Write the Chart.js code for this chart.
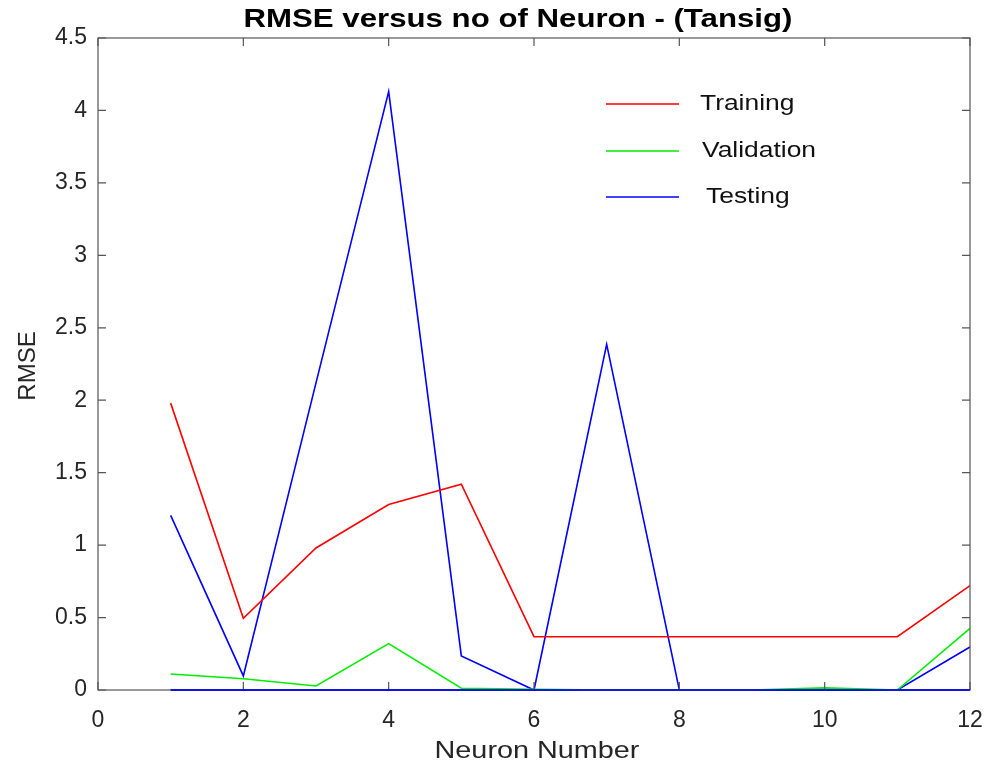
<!DOCTYPE html>
<html>
<head>
<meta charset="utf-8">
<script src="https://cdn.jsdelivr.net/npm/chart.js@4"></script>
<style>
  html, body { margin: 0; padding: 0; background: #fff; }
  #wrap { width: 993px; height: 772px; }
</style>
</head>
<body>
<div id="wrap"><canvas id="c"></canvas></div>
<script>
// neuron counts and RMSE
const neurons = [1, 2, 3, 4, 5, 6, 7, 8, 9, 10, 11, 12];
const training = [1.98, 0.495, 0.98, 1.28, 1.42, 0.368, 0.368, 0.368, 0.368, 0.368, 0.368, 0.72];
const validation = [0.11, 0.078, 0.028, 0.32, 0.012, 0.005, 0, 0, 0, 0.015, 0, 0.426];
const testing = [1.205, 0.097, 2.12, 4.13, 0.235, 0, 2.385, 0, 0, 0, 0, 0.297];
const baseline = [0, 0, 0, 0, 0, 0, 0, 0, 0, 0, 0, 0];
const seriesLabels = ["Training", "Validation", "Testing"];
const xTicks = [0, 2, 4, 6, 8, 10, 12];
const yTicks = [0, 0.5, 1, 1.5, 2, 2.5, 3, 3.5, 4, 4.5];

const FONT = "'Liberation Sans', Arial, sans-serif";
const STRETCH = 1.2; // the source figure is stretched sideways

function pts(ys) {
    return neurons.map(function (n, i) { return { x: n, y: ys[i] }; });
}

function line(label, ys, color) {
    return {
        label: label,
        data: pts(ys),
        borderColor: color,
        backgroundColor: color,
        borderWidth: 1.6,
        pointRadius: 0,
        tension: 0,
        fill: false,
        clip: false,
    };
}

function wideText(ctx, text, x, y, align) {
    ctx.save();
    ctx.translate(x, y);
    ctx.scale(STRETCH, 1);
    ctx.textAlign = align;
    ctx.fillText(text, 0, 0);
    ctx.restore();
}

// axes box, inward ticks, title and legend the way MATLAB draws them
const matlabFrame = {
    id: "matlabFrame",
    afterDraw: function (chart) {
        const ctx = chart.ctx;
        const a = chart.chartArea;
        const xs = chart.scales.x, ys = chart.scales.y;
        ctx.save();
        ctx.strokeStyle = "#555";
        ctx.lineWidth = 1.2;
        ctx.strokeRect(a.left, a.top, a.right - a.left, a.bottom - a.top);
        const tl = 8;
        ctx.beginPath();
        xTicks.forEach(function (v) {
            const px = xs.getPixelForValue(v);
            ctx.moveTo(px, a.bottom); ctx.lineTo(px, a.bottom - tl);
            ctx.moveTo(px, a.top); ctx.lineTo(px, a.top + tl);
        });
        yTicks.forEach(function (v) {
            const py = ys.getPixelForValue(v);
            ctx.moveTo(a.left, py); ctx.lineTo(a.left + tl, py);
            ctx.moveTo(a.right, py); ctx.lineTo(a.right - tl, py);
        });
        ctx.stroke();

        // redraw baseline over the axis line
        const zero = ys.getPixelForValue(0);
        ctx.strokeStyle = "#0000ff";
        ctx.lineWidth = 1.6;
        ctx.beginPath();
        ctx.moveTo(xs.getPixelForValue(neurons[0]), zero);
        ctx.lineTo(xs.getPixelForValue(neurons[neurons.length - 1]), zero);
        ctx.stroke();

        ctx.textBaseline = "middle";
        ctx.fillStyle = "#000";
        ctx.font = "bold 26px " + FONT;
        wideText(ctx, "RMSE versus no of Neuron - (Tansig)", 518, 20, "center");

        ctx.fillStyle = "#262626";
        ctx.font = "24px " + FONT;
        wideText(ctx, "Neuron Number", 537, 751, "center");
        ctx.save();
        ctx.translate(28, 366);
        ctx.rotate(-Math.PI / 2);
        ctx.textAlign = "center";
        ctx.fillText("RMSE", 0, 0);
        ctx.restore();

        // legend
        const rows = [
            { y: 104, tx: 700 },
            { y: 151, tx: 702 },
            { y: 197, tx: 706 },
        ];
        ctx.font = "22px " + FONT;
        rows.forEach(function (r, i) {
            const ds = chart.data.datasets[i];
            ctx.strokeStyle = ds.borderColor;
            ctx.lineWidth = 1.6;
            ctx.beginPath();
            ctx.moveTo(606, r.y);
            ctx.lineTo(679, r.y);
            ctx.stroke();
            ctx.fillStyle = "#111";
            wideText(ctx, seriesLabels[i], r.tx, r.y, "left");
        });
        ctx.restore();
    },
};

new Chart(document.getElementById("c"), {
    type: "line",
    data: {
        datasets: [
            line(seriesLabels[0], training, "#ff0000"),
            line(seriesLabels[1], validation, "#00ee00"),
            line(seriesLabels[2], testing, "#0000ff"),
            line("", baseline, "#0000ff"),
        ],
    },
    options: {
        responsive: true,
        maintainAspectRatio: false,
        animation: false,
        layout: { padding: { top: 38, right: 23, left: 0, bottom: 0 } },
        plugins: {
            legend: { display: false },
            tooltip: { enabled: false },
        },
        scales: {
            x: {
                type: "linear",
                min: 0,
                max: 12,
                afterBuildTicks: function (s) {
                    s.ticks = xTicks.map(function (v) { return { value: v }; });
                },
                afterFit: function (s) {
                    s.height = 82;
                    s.paddingLeft = 0;
                    s.paddingRight = 0;
                },
                grid: { display: false, drawTicks: false },
                border: { display: false },
                ticks: {
                    color: "#262626",
                    font: { family: FONT, size: 23 },
                    padding: 17,
                    maxRotation: 0,
                    callback: function (v) { return String(v); },
                },
            },
            y: {
                type: "linear",
                min: 0,
                max: 4.5,
                afterBuildTicks: function (s) {
                    s.ticks = yTicks.map(function (v) { return { value: v }; });
                },
                afterFit: function (s) {
                    s.width = 98;
                    s.paddingTop = 0;
                    s.paddingBottom = 0;
                },
                grid: { display: false, drawTicks: false },
                border: { display: false },
                ticks: {
                    color: "#262626",
                    font: { family: FONT, size: 23 },
                    padding: 11,
                    callback: function (v) { return String(v); },
                },
            },
        },
    },
    plugins: [matlabFrame],
});
</script>
</body>
</html>
